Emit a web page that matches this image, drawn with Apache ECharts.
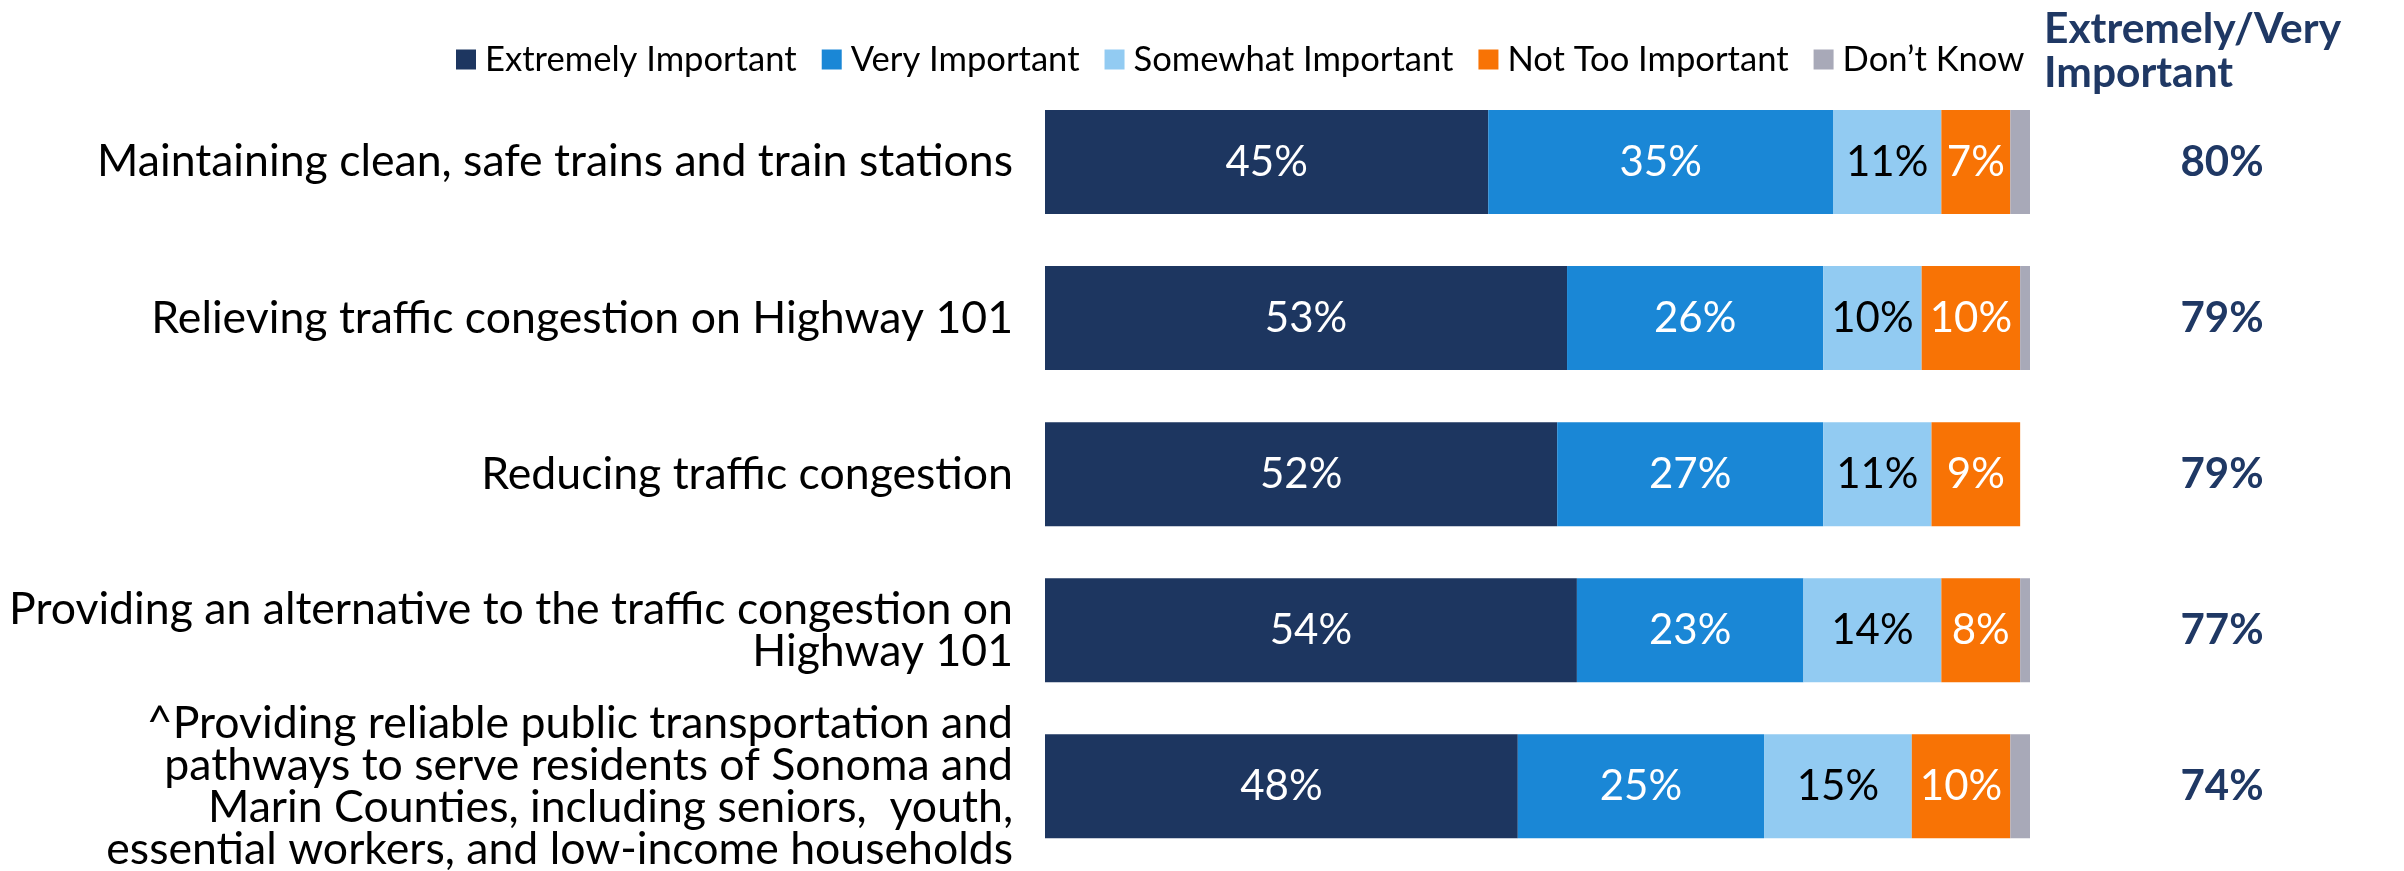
<!DOCTYPE html>
<html>
<head>
<meta charset="utf-8">
<title>Importance of SMART priorities</title>
<script src="https://cdn.jsdelivr.net/npm/echarts@6/dist/echarts.min.js"></script>
<style>
  html, body { margin: 0; padding: 0; background: #ffffff; }
  #chart { width: 2404px; height: 871px; }
</style>
</head>
<body>
<div id="chart"></div>
<script>
// Survey items, top to bottom
const categories = [
  'Maintaining clean, safe trains and train stations',
  'Relieving traffic congestion on Highway 101',
  'Reducing traffic congestion',
  'Providing an alternative to the traffic congestion on\nHighway 101',
  '^Providing reliable public transportation and\npathways to serve residents of Sonoma and\nMarin Counties, including seniors,  youth,\nessential workers, and low-income households'
];

// Response shares (%)
const extremelyImportant = [45, 53, 52, 54, 48];
const veryImportant      = [35, 26, 27, 23, 25];
const somewhatImportant  = [11, 10, 11, 14, 15];
const notTooImportant    = [7, 10, 9, 8, 10];
const dontKnow           = [2, 1, 0, 1, 2];

// Combined Extremely/Very Important column
const extremelyVeryTotal = [80, 79, 79, 77, 74];

const seriesNames = ['Extremely Important', 'Very Important', 'Somewhat Important', 'Not Too Important', 'Don\u2019t Know'];
const seriesData  = [extremelyImportant, veryImportant, somewhatImportant, notTooImportant, dontKnow];
const seriesColors = ['#1D3660', '#1A87D6', '#92CBF2', '#F87305', '#A8A9B8'];
const labelColors  = ['#ffffff', '#ffffff', '#000000', '#ffffff', null];

const FONT = 'Lato, "Open Sans", sans-serif';
const NAVY = '#1F3864';

const chart = echarts.init(document.getElementById('chart'), null, { renderer: 'canvas' });

const series = seriesNames.map((name, i) => ({
  name: name,
  type: 'bar',
  stack: 'total',
  barWidth: 104,
  itemStyle: { color: seriesColors[i] },
  label: {
    show: labelColors[i] !== null,
    position: 'inside',
    color: labelColors[i] || '#fff',
    fontFamily: FONT,
    fontSize: 42,
    formatter: p => p.value > 0 ? p.value + '%' : ''
  },
  emphasis: { disabled: true },
  data: seriesData[i]
}));

chart.setOption({
  animation: false,
  backgroundColor: '#ffffff',
  legend: {
    data: seriesNames,
    left: 451,
    top: 37,
    icon: 'rect',
    itemWidth: 20,
    itemHeight: 20,
    itemGap: 25,
    selectedMode: false,
    textStyle: {
      fontFamily: FONT,
      fontSize: 34.6,
      color: '#000000',
      padding: [0, 0, 0, 4]
    }
  },
  grid: {
    left: 1045,
    width: 985,
    top: 84,
    height: 789
  },
  xAxis: {
    type: 'value',
    min: 0,
    max: 100,
    show: false
  },
  yAxis: [
    {
      type: 'category',
      data: categories,
      inverse: true,
      axisLine: { show: false },
      axisTick: { show: false },
      splitLine: { show: false },
      axisLabel: {
        margin: 32,
        fontFamily: FONT,
        fontSize: 44.6,
        lineHeight: 42,
        color: '#000000',
        align: 'right'
      }
    },
    {
      type: 'category',
      data: categories,
      inverse: true,
      position: 'right',
      axisLine: { show: false },
      axisTick: { show: false },
      splitLine: { show: false },
      axisLabel: {
        margin: 192,
        align: 'center',
        fontFamily: FONT,
        fontWeight: 'bold',
        fontSize: 42,
        color: NAVY,
        formatter: (v, idx) => extremelyVeryTotal[idx] + '%'
      }
    }
  ],
  graphic: [
    {
      type: 'text',
      left: 2224 - 180,
      top: 7,
      style: {
        text: 'Extremely/Very\nImportant',
        width: 360,
        align: 'center',
        x: 180,
        fontFamily: FONT,
        fontWeight: 'bold',
        fontSize: 42.5,
        lineHeight: 44,
        fill: NAVY
      }
    }
  ],
  series: series
});
</script>
</body>
</html>
